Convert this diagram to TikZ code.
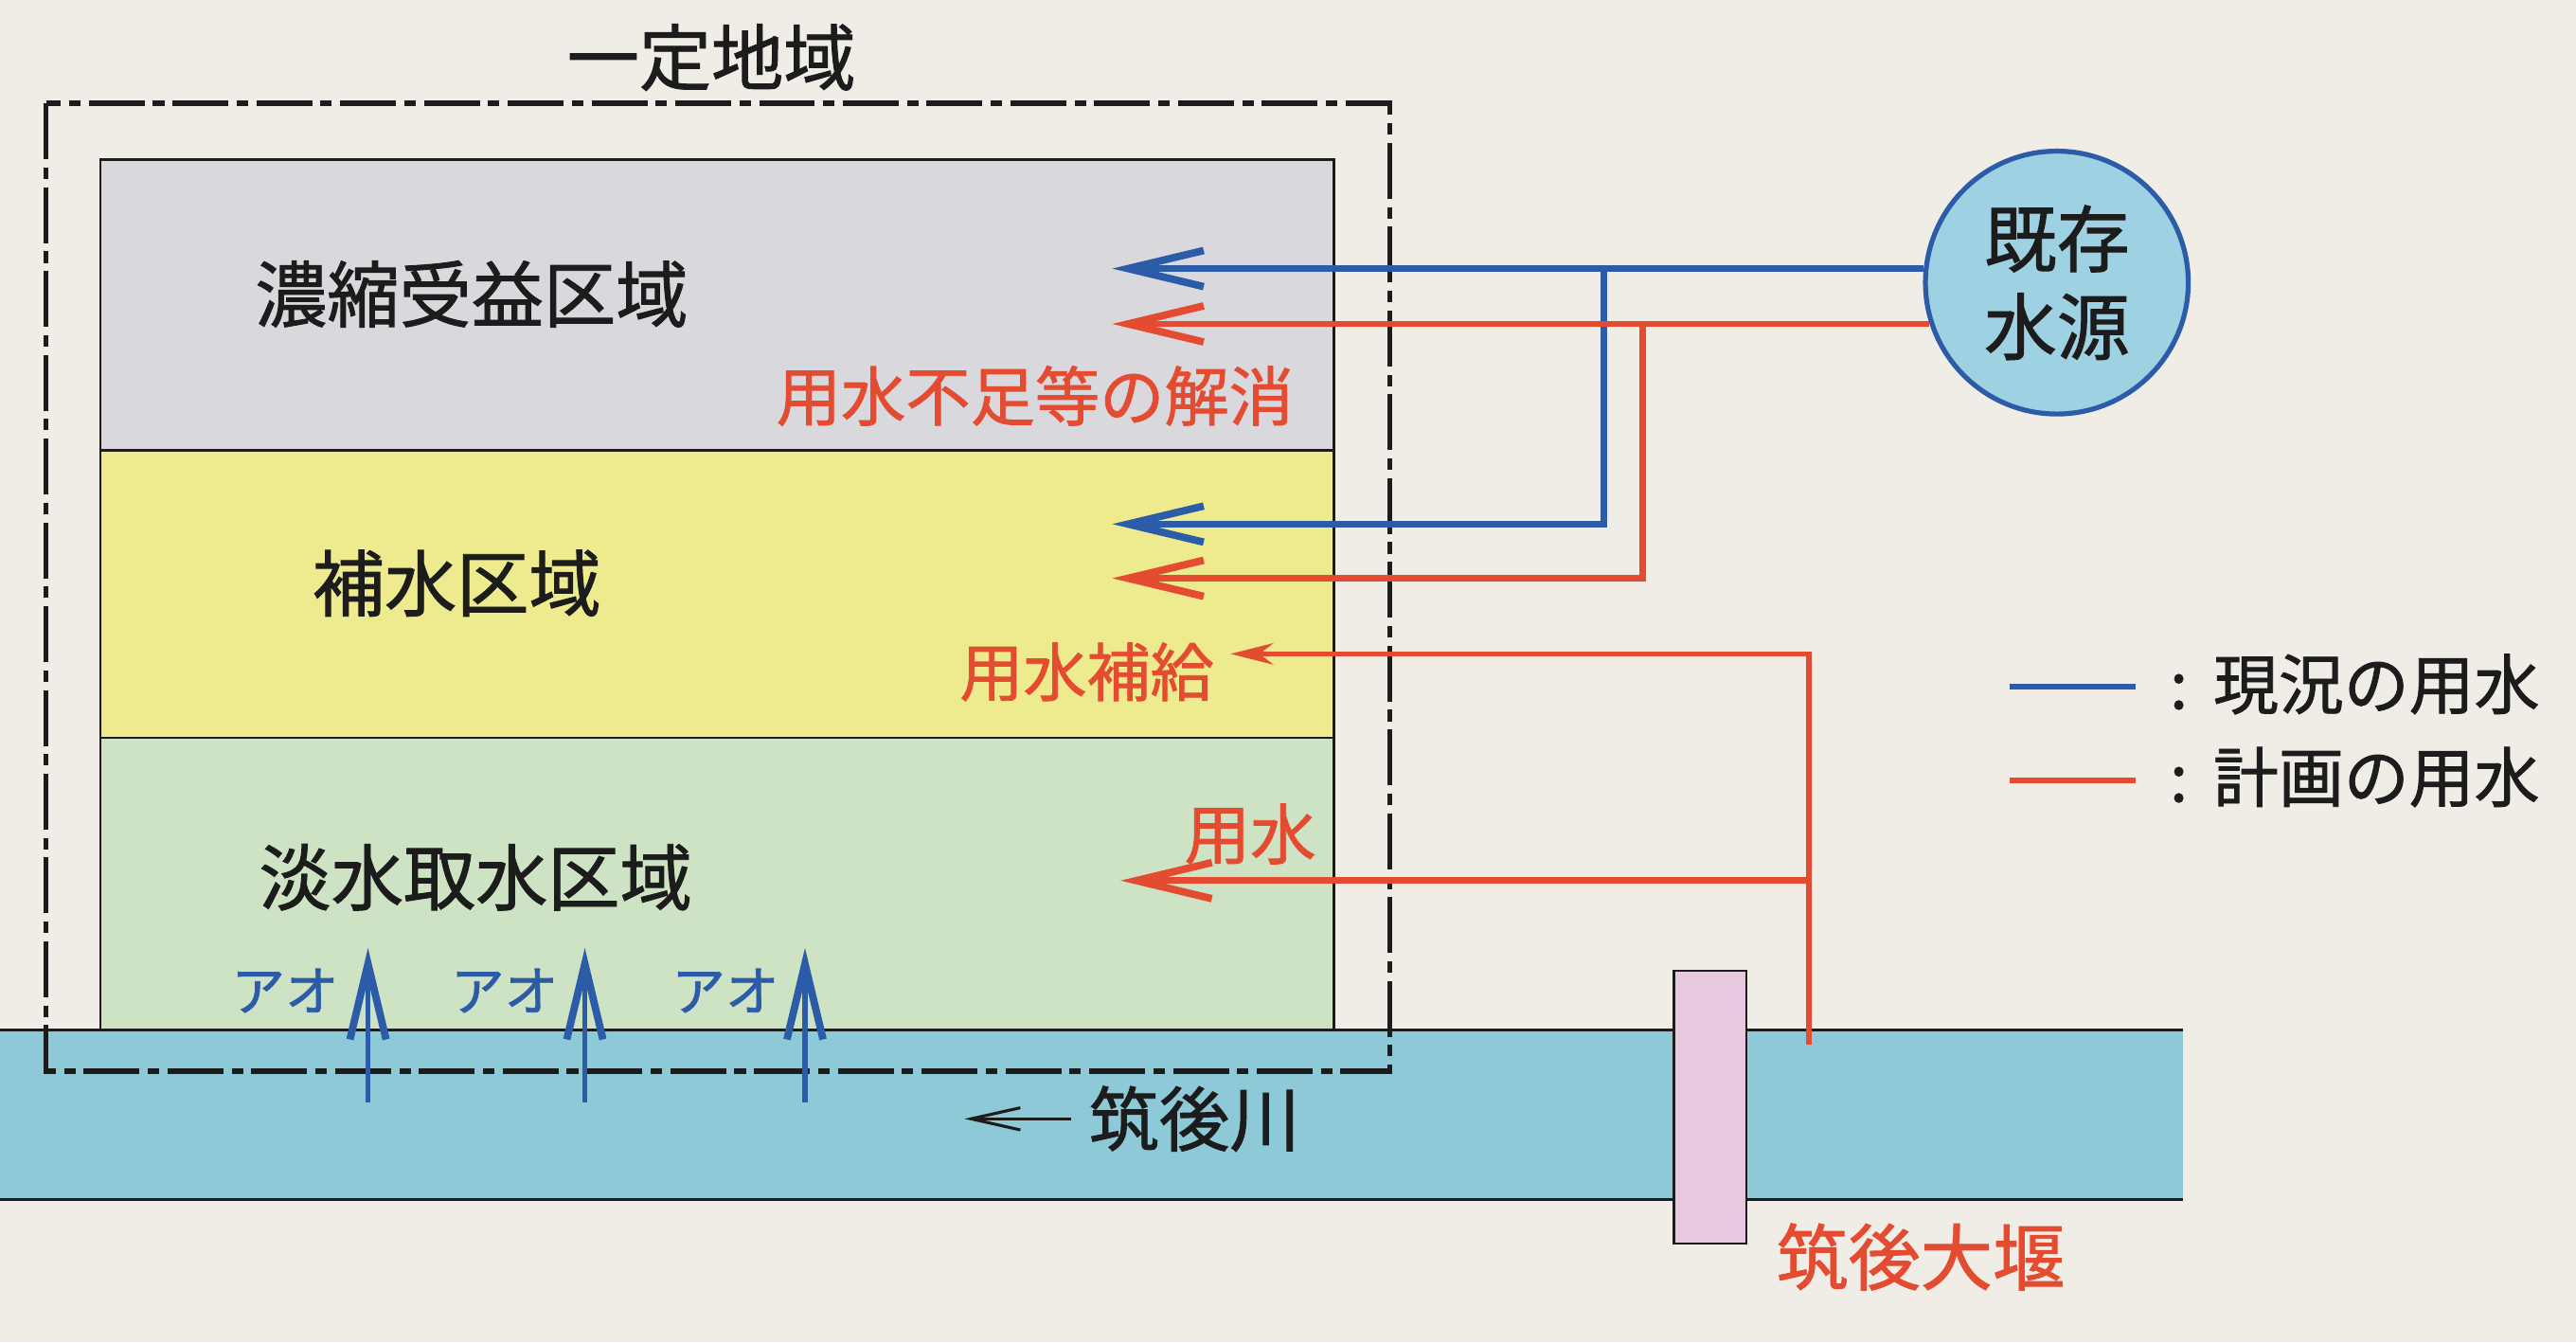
\documentclass[tikz,border=0pt]{standalone}
\usepackage{fontspec}
\setmainfont{Noto Sans CJK JP}[FakeBold=1.2]
\usetikzlibrary{arrows.meta}
\definecolor{paper}{RGB}{239,237,230}
\definecolor{zgray}{RGB}{217,216,221}
\definecolor{zyellow}{RGB}{238,235,142}
\definecolor{zgreen}{RGB}{206,226,196}
\definecolor{river}{RGB}{142,201,216}
\definecolor{srcfill}{RGB}{158,210,226}
\definecolor{wblue}{RGB}{44,92,168}
\definecolor{wred}{RGB}{228,76,50}
\definecolor{weirpink}{RGB}{232,200,222}
\definecolor{ink}{RGB}{28,28,28}
\newcommand\jsize[1]{\fontsize{#1}{#1}\selectfont}
\tikzset{
  zone/.style={draw=ink, line width=0.15mm, inner sep=0pt, outer sep=0pt, anchor=north west, minimum width=75.1mm},
  zlabel/.style={inner sep=0pt, text=ink, font=\jsize{12.5pt}},
  rlabel/.style={inner sep=0pt, text=wred, font=\jsize{11.2pt}},
  aolabel/.style={inner sep=0pt, text=wblue, font=\jsize{9.3pt}},
  bluepipe/.style={draw=wblue, line width=0.4mm},
  redpipe/.style={draw=wred, line width=0.38mm},
  redthin/.style={draw=wred, line width=0.32mm},
  aopipe/.style={draw=wblue, line width=0.32mm},
  bigtip/.style={-{Straight Barb[length=4.6mm,width=2.2mm,line width=0.45mm]}},
  smalltip/.style={-{Stealth[length=2.6mm,width=1.3mm]}},
  rivertip/.style={-{Straight Barb[length=3mm,width=1.35mm]}},
  regionline/.style={draw=ink, line width=0.32mm, dash pattern=on 3.4mm off 0.5mm on 0.7mm off 0.5mm},
}
\begin{document}
\begin{tikzpicture}[x=0.1mm,y=-0.1mm]
\fill[paper] (0,0) rectangle (1568,817);
\useasboundingbox (0,0) rectangle (1568,817);

% river
\fill[river] (0,627) rectangle (1329,730);
\draw[ink, line width=0.15mm] (0,627) -- (1329,627) (0,730) -- (1329,730);

% zones
\node[zone, fill=zgray, minimum height=17.7mm] (z1) at (61,97) {};
\node[zone, fill=zyellow, minimum height=17.5mm] (z2) at (61,274) {};
\node[zone, fill=zgreen, minimum height=17.8mm] (z3) at (61,449) {};

\node[zlabel] (t1) at (287,179) {濃縮受益区域};
\node[zlabel] (t2) at (278,355) {補水区域};
\node[zlabel] (t3) at (289.5,534) {淡水取水区域};

% region
\draw[regionline] (28,63) rectangle (846,652);
\node[zlabel] (title) at (433,35) {一定地域};

% weir
\node[draw=ink, line width=0.15mm, fill=weirpink, minimum width=4.4mm, minimum height=16.6mm, inner sep=0pt] (weir) at (1041,674) {};
\node[inner sep=0pt, text=wred, font=\jsize{12.5pt}] (weirlbl) at (1169,765) {筑後大堰};

% river label
\node[zlabel, font=\jsize{12.2pt}] (rivlbl) at (727,681) {筑後川};
\coordinate (rvs) at (652,681);
\coordinate (rve) at (587,681);
\draw[ink, line width=0.18mm, rivertip] (rvs) -- (rve);

% upward arrows
\coordinate (ao1b) at (224,671); \coordinate (ao1t) at (224,577);
\coordinate (ao2b) at (356,671); \coordinate (ao2t) at (356,577);
\coordinate (ao3b) at (490,671); \coordinate (ao3t) at (490,577);
\draw[aopipe, bigtip] (ao1b) -- (ao1t);
\draw[aopipe, bigtip] (ao2b) -- (ao2t);
\draw[aopipe, bigtip] (ao3b) -- (ao3t);
\node[aolabel] (ao1) at (173.5,603) {アオ};
\node[aolabel] (ao2) at (307,603) {アオ};
\node[aolabel] (ao3) at (441.5,603) {アオ};

% source
\node[circle, draw=wblue, line width=0.3mm, fill=srcfill, minimum size=16mm, inner sep=0pt, align=center, text=ink, font=\fontsize{12.6pt}{15.2pt}\selectfont] (src) at (1252,172) {既存\\水源};

% pipes
\coordinate (bt1) at (677,164);
\coordinate (bj) at (976,164);
\coordinate (bt2) at (677,319);
\coordinate (rt1) at (677,198);
\coordinate (rj) at (1000,198);
\coordinate (rt2) at (677,352);
\coordinate (intake) at (1101,636);
\coordinate (rt3) at (749,398);
\coordinate (ij) at (1101,536);
\coordinate (rt4) at (682,536);

\draw[bluepipe, bigtip] (src.174.3) -- (src.174.3 -| bt1);
\draw[bluepipe, bigtip] (bj) |- (bt2);
\draw[redpipe, bigtip] (src.198.6) -- (src.198.6 -| rt1);
\draw[redpipe, bigtip] (rj) |- (rt2);
\draw[redthin, smalltip] (intake) |- (rt3);
\draw[redpipe, bigtip] (ij) -- (rt4);

\node[rlabel] (r1) at (630,241) {用水不足等の解消};
\node[rlabel, font=\jsize{11pt}] (r2) at (661.5,409) {用水補給};
\node[rlabel, font=\jsize{11.4pt}] (r3) at (761,507.7) {用水};

% legend
\coordinate (lg1a) at (1223,418); \coordinate (lg1b) at (1300,418);
\coordinate (lg2a) at (1223,475); \coordinate (lg2b) at (1300,475);
\draw[bluepipe, line width=0.35mm] (lg1a) -- (lg1b);
\draw[redpipe, line width=0.35mm] (lg2a) -- (lg2b);
\node[inner sep=0pt, anchor=west, text=ink, font=\jsize{11.3pt}] (lg1) at (1320,416.5) {:\hspace{1.55mm}現況の用水};
\node[inner sep=0pt, anchor=west, text=ink, font=\jsize{11.3pt}] (lg2) at (1320,473) {:\hspace{1.55mm}計画の用水};
\end{tikzpicture}
\end{document}
